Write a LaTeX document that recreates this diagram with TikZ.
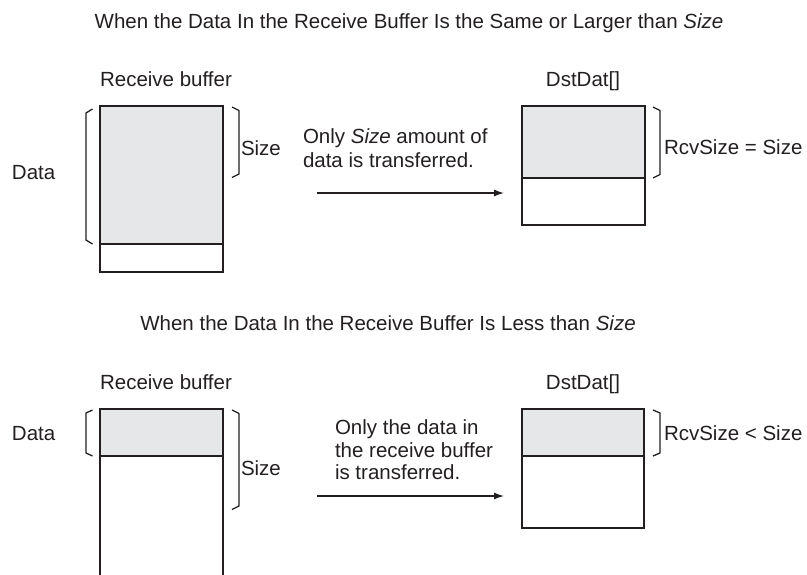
\documentclass[tikz,border=0pt]{standalone}
\usepackage{fontspec}
\setmainfont{Liberation Sans}
\usetikzlibrary{arrows.meta}
\definecolor{ink}{HTML}{231F20}
\definecolor{boxgrey}{HTML}{E6E7E8}
\begin{document}
\begin{tikzpicture}[x=1pt,y=-1pt,
  lbl/.style={inner sep=0pt,outer sep=0pt,text=ink,font=\fontsize{20.5}{24}\selectfont},
  boxline/.style={draw=ink,line width=1.8pt},
  brk/.style={draw=ink,line width=1.3pt,line join=round},
  xfer/.style={draw=ink,line width=1.3pt,-{Latex[length=10pt,width=7pt]}}]
\clip (0,0) rectangle (807,574);
\useasboundingbox (0,0) rectangle (807,574);

% ===== Top section =====
\node[lbl,anchor=base] (t1) at (409,28) {When the Data In the Receive Buffer Is the Same or Larger than \textit{Size}};
\node[lbl,anchor=base] (rb1) at (166,86) {Receive buffer};
\node[lbl,anchor=base] (dd1) at (583,86) {DstDat[]};
\node[lbl,anchor=base west] (data1) at (12,179) {Data};
\node[lbl,anchor=base west] (size1) at (241,155) {Size};
\node[lbl,anchor=base west] (m1a) at (303,143) {Only \textit{Size} amount of};
\node[lbl,anchor=base west] (m1b) at (303,167) {data is transferred.};
\node[lbl,anchor=base west] (rs1) at (664,154) {RcvSize = Size};

% receive buffer (top)
\fill[boxgrey] (100,106) rectangle (223,244);
\draw[boxline] (100,106) rectangle (223,272);
\draw[boxline] (100,244) -- (223,244);
% DstDat (top)
\fill[boxgrey] (522,106) rectangle (645,178);
\draw[boxline] (522,106) rectangle (645,225);
\draw[boxline] (522,178) -- (645,178);
% brackets (top)
\draw[brk] (92.5,109) -- (86,113) -- (86,240) -- (92.5,244);
\draw[brk] (232,107) -- (239,110.5) -- (239,174) -- (232,177.5);
\draw[brk] (653,107) -- (660,110.5) -- (660,174.5) -- (653,178);
% arrow (top)
\coordinate (a1s) at (317,193);
\coordinate (a1e) at (504,193);
\draw[xfer] (a1s) -- (a1e);

% ===== Bottom section =====
\node[lbl,anchor=base] (t2) at (388,330) {When the Data In the Receive Buffer Is Less than \textit{Size}};
\node[lbl,anchor=base] (rb2) at (166,389) {Receive buffer};
\node[lbl,anchor=base] (dd2) at (583,389) {DstDat[]};
\node[lbl,anchor=base west] (data2) at (12,440) {Data};
\node[lbl,anchor=base west] (size2) at (241,475) {Size};
\node[lbl,anchor=base west] (m2a) at (335,434) {Only the data in};
\node[lbl,anchor=base west] (m2b) at (335,457) {the receive buffer};
\node[lbl,anchor=base west] (m2c) at (335,479) {is transferred.};
\node[lbl,anchor=base west] (rs2) at (664,440) {RcvSize < Size};

% receive buffer (bottom, open below the picture edge)
\fill[boxgrey] (100,409) rectangle (223,456);
\draw[boxline] (100,590) -- (100,409) -- (223,409) -- (223,590);
\draw[boxline] (100,456) -- (223,456);
% DstDat (bottom)
\fill[boxgrey] (522,409) rectangle (644,456);
\draw[boxline] (522,409) rectangle (644,528);
\draw[boxline] (522,456) -- (644,456);
% brackets (bottom)
\draw[brk] (92.5,410) -- (86,413) -- (86,453) -- (92.5,456);
\draw[brk] (232,410) -- (239,413.5) -- (239,506) -- (232,509.5);
\draw[brk] (653,410) -- (660,413) -- (660,453) -- (653,456);
% arrow (bottom)
\coordinate (a2s) at (317,496);
\coordinate (a2e) at (504,496);
\draw[xfer] (a2s) -- (a2e);
\end{tikzpicture}
\end{document}
